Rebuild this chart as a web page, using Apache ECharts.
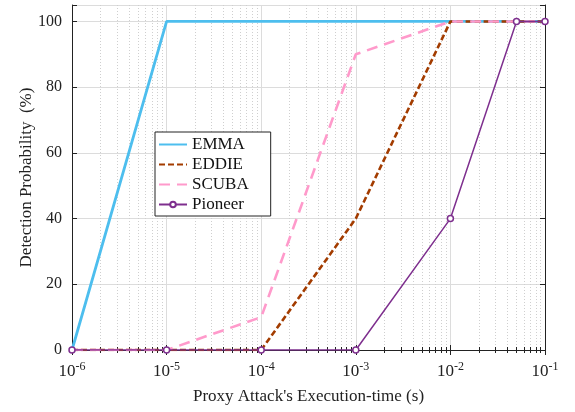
<!DOCTYPE html>
<html>
<head>
<meta charset="utf-8">
<script src="https://cdn.jsdelivr.net/npm/echarts@6/dist/echarts.min.js"></script>
<style>
  html, body { margin: 0; padding: 0; background: #fff; }
  #chart { width: 575px; height: 412px; }
</style>
</head>
<body>
<div id="chart"></div>
<script>
// execution time (s) for each measurement
const xVals = [1e-6, 1e-5, 1e-4, 1e-3, 1e-2, 5e-2, 1e-1]
const emma = [0, 100, 100, 100, 100, 100, 100]
const eddie = [0, 0, 0, 40, 100, 100, 100]
const scuba = [0, 0, 10, 90, 100, 100, 100]
const pioneer = [0, 0, 0, 0, 40, 100, 100]
const yTicks = [0, 20, 40, 60, 80, 100]

const pairs = ys => xVals.map((x, i) => [x, ys[i]])
const font = 'Liberation Serif'
// legend entries drawn as plain line samples (no marker) except Pioneer
const noMark = { opacity: 0 }

const chart = echarts.init(document.getElementById('chart'))

const option = {
  animation: false,
  textStyle: { fontFamily: font },
  grid: { left: 72, right: 30, top: 5, bottom: 62 },
  legend: {
    orient: 'vertical',
    left: 155,
    top: 132,
    itemWidth: 28,
    itemHeight: 7,
    itemGap: 3,
    padding: [4, 22, 3, 3],
    backgroundColor: '#fff',
    borderColor: '#222',
    borderWidth: 1,
    borderRadius: 0,
    textStyle: { fontFamily: font, fontSize: 17, color: '#111' },
    data: [
      { name: 'EMMA', itemStyle: noMark },
      { name: 'EDDIE', itemStyle: noMark },
      { name: 'SCUBA', itemStyle: noMark },
      { name: 'Pioneer' }
    ]
  },
  xAxis: [
    {
      type: 'log',
      logBase: 10,
      min: 1e-6,
      max: 1e-1,
      name: "Proxy Attack's Execution-time (s)",
      nameLocation: 'middle',
      nameGap: 38,
      nameMoveOverlap: false,
      nameTextStyle: { fontFamily: font, fontSize: 17, color: '#222' },
      axisLine: { lineStyle: { color: '#222', width: 1 } },
      axisTick: { inside: true, length: 5, lineStyle: { color: '#222' } },
      minorTick: { show: true, splitNumber: 9, length: 3, lineStyle: { color: '#222' } },
      minorSplitLine: { show: true, lineStyle: { color: '#cfcfcf', width: 1, type: [1, 2] } },
      axisLabel: {
        margin: 11,
        formatter: v => '{b|10}{s|' + Math.round(Math.log10(v)) + '}',
        rich: {
          b: { fontFamily: font, fontSize: 17, color: '#222' },
          s: { fontFamily: font, fontSize: 12, color: '#222', padding: [0, 0, 9, 0] }
        }
      },
      splitLine: { show: true, lineStyle: { color: '#dcdcdc', width: 1 } }
    },
    {
      type: 'log',
      logBase: 10,
      min: 1e-6,
      max: 1e-1,
      position: 'top',
      axisLine: { lineStyle: { color: '#222', width: 1 } },
      axisTick: { inside: true, length: 5, lineStyle: { color: '#222' } },
      minorTick: { show: true, splitNumber: 9, length: 3, lineStyle: { color: '#222' } },
      axisLabel: { show: false },
      splitLine: { show: false }
    }
  ],
  yAxis: [
    {
      type: 'value',
      min: 0,
      max: 105,
      interval: 20,
      name: 'Detection Probability  (%)',
      nameLocation: 'middle',
      nameGap: 37,
      nameMoveOverlap: false,
      nameTextStyle: { fontFamily: font, fontSize: 17, color: '#222' },
      axisLine: { show: true, lineStyle: { color: '#222', width: 1 } },
      axisTick: { show: true, inside: true, length: 5, lineStyle: { color: '#222' } },
      axisLabel: {
        fontFamily: font, fontSize: 16, color: '#222', margin: 10,
        formatter: v => (yTicks.includes(v) ? String(v) : '')
      },
      splitLine: { show: true, lineStyle: { color: '#dcdcdc', width: 1 } }
    },
    {
      type: 'value',
      min: 0,
      max: 105,
      interval: 20,
      position: 'right',
      axisLine: { show: true, lineStyle: { color: '#222', width: 1 } },
      axisTick: { show: true, inside: true, length: 5, lineStyle: { color: '#222' } },
      axisLabel: { show: false },
      splitLine: { show: false }
    }
  ],
  series: [
    {
      name: 'EMMA',
      type: 'line',
      data: pairs(emma),
      symbol: 'none',
      lineStyle: { color: '#4DBEEE', width: 2.8 },
      itemStyle: { color: '#4DBEEE' },
      z: 3
    },
    {
      name: 'EDDIE',
      type: 'line',
      data: pairs(eddie),
      symbol: 'none',
      lineStyle: { color: '#A33C00', width: 2.6, type: [6, 3] },
      itemStyle: { color: '#A33C00' },
      z: 4
    },
    {
      name: 'SCUBA',
      type: 'line',
      data: pairs(scuba),
      symbol: 'none',
      lineStyle: { color: '#FF9ACB', width: 2.6, type: [11, 7] },
      itemStyle: { color: '#FF9ACB' },
      z: 5
    },
    {
      name: 'Pioneer',
      type: 'line',
      data: pairs(pioneer),
      symbol: 'circle',
      symbolSize: 6,
      lineStyle: { color: '#7E2F8E', width: 1.5 },
      itemStyle: { color: '#fff', borderColor: '#7E2F8E', borderWidth: 1.5 },
      z: 6
    }
  ]
}

chart.setOption(option)
</script>
</body>
</html>
